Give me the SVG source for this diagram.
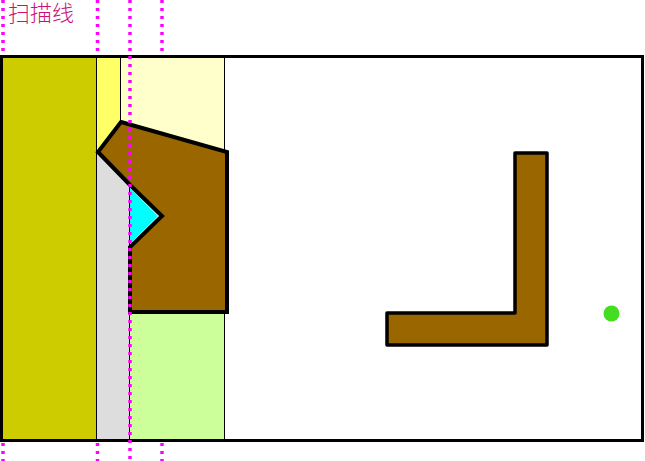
<svg xmlns="http://www.w3.org/2000/svg" width="645" height="461" viewBox="0 0 645 461">
<style>
.thin{stroke:#000;stroke-width:1;fill:none}
.scan{stroke:#FF00FF;stroke-width:3.5;stroke-dasharray:3,5;fill:none}
.wall{fill:#996600;stroke:#000;stroke-width:4;stroke-linejoin:miter}
</style>
<rect x="0" y="0" width="645" height="461" fill="#fff"/>
<g id="regions">
<rect x="0" y="56" width="96" height="384" fill="#CCCC00"/>
<rect x="96" y="56" width="24" height="97" fill="#FFFF66"/>
<rect x="120" y="56" width="104" height="97" fill="#FFFFCC"/>
<rect x="96" y="152" width="33" height="288" fill="#DDDDDD"/>
<rect x="129" y="300" width="95" height="140" fill="#CCFF99"/>
<line class="thin" x1="96.5" y1="56" x2="96.5" y2="440"/>
<line class="thin" x1="120.5" y1="56" x2="120.5" y2="122"/>
<line class="thin" x1="224.5" y1="56" x2="224.5" y2="440"/>
<line class="thin" x1="129.5" y1="184" x2="129.5" y2="440"/>
</g>
<g id="obstacle1">
<polygon class="wall" points="121,122 227,152 227,312 130,312 130,247 162,216 130,185 98,152"/>
<polygon points="130,188 158,216 130,244" fill="#00FFFF"/>
</g>
<g id="obstacle2">
<polygon points="515,153 547,153 547,345 387,345 387,313 515,313" fill="#996600" stroke="#000" stroke-width="3.5" stroke-linejoin="round"/>
</g>
<g id="point">
<circle cx="611.5" cy="313.5" r="8" fill="#44DD22"/>
</g>
<g id="frame">
<rect x="1.5" y="56.5" width="641" height="384" fill="none" stroke="#000" stroke-width="3"/>
</g>
<g id="scanlines">
<line class="scan" x1="3" y1="0" x2="3" y2="55"/>
<line class="scan" x1="3" y1="443" x2="3" y2="461"/>
<line class="scan" x1="97.5" y1="0" x2="97.5" y2="55"/>
<line class="scan" x1="97.5" y1="443" x2="97.5" y2="461"/>
<line class="scan" x1="162" y1="0" x2="162" y2="55"/>
<line class="scan" x1="162" y1="443" x2="162" y2="461"/>
<line class="scan" x1="130" y1="0" x2="130" y2="461"/>
</g>
<text x="8" y="21" font-family="'Liberation Sans', 'Noto Sans CJK SC', sans-serif" font-size="22" font-weight="300" fill="#CC1177">扫描线</text>
</svg>
